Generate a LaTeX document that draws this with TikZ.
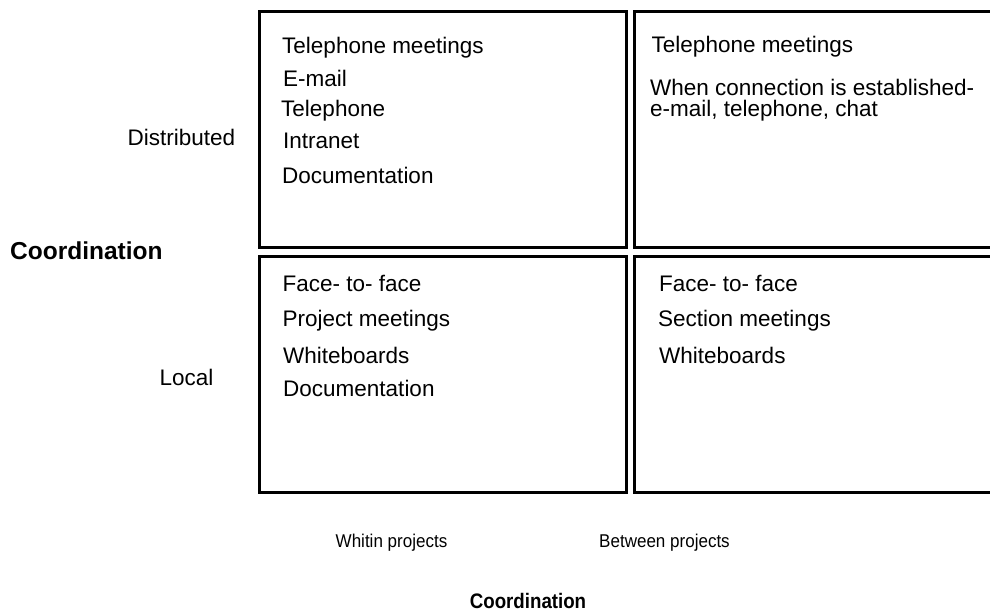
\documentclass[tikz,border=0pt]{standalone}
\usepackage{fontspec}
\setmainfont{Liberation Sans}
\begin{document}
\begin{tikzpicture}[x=1pt,y=-1pt,
  cell/.style={draw=black,line width=3pt,anchor=north west,inner sep=0pt,outer sep=0pt,
    minimum width=367pt,minimum height=236pt},
  item/.style={anchor=base west,inner sep=0pt,font=\fontsize{22.5}{27}\selectfont},
  side/.style={anchor=base,inner sep=0pt,font=\fontsize{22.5}{27}\selectfont},
  axis/.style={anchor=base,inner sep=0pt,font=\fontsize{18.5}{22}\selectfont,xscale=0.92,transform shape},
  title/.style={anchor=base,inner sep=0pt,font=\bfseries\fontsize{24.5}{29}\selectfont}]
\useasboundingbox (0,0) rectangle (990,611);
\clip (0,0) rectangle (990,611);

% quadrants
\node[cell] (tl) at (259.5,11.5) {};
\node[cell,minimum width=400pt] (tr) at (634.5,11.5) {};
\node[cell] (bl) at (259.5,256.5) {};
\node[cell,minimum width=400pt] (br) at (634.5,256.5) {};

% distributed, within projects
\node[item] (tl1) at (282,53) {Telephone meetings};
\node[item] (tl2) at (283,86) {E-mail};
\node[item] (tl3) at (281,116) {Telephone};
\node[item] (tl4) at (283,148) {Intranet};
\node[item] (tl5) at (282,183) {Documentation};

% distributed, between projects
\node[item] (tr1) at (651.5,52) {Telephone meetings};
\node[item] (tr2) at (650,95.5) {When connection is established-};
\node[item] (tr3) at (650,116.5) {e-mail, telephone, chat};

% local, within projects
\node[item] (bl1) at (282.5,291) {Face- to- face};
\node[item] (bl2) at (282.5,326.5) {Project meetings};
\node[item] (bl3) at (283,363) {Whiteboards};
\node[item] (bl4) at (283,396.5) {Documentation};

% local, between projects
\node[item] (br1) at (659,291.5) {Face- to- face};
\node[item] (br2) at (658,326.5) {Section meetings};
\node[item] (br3) at (659,363) {Whiteboards};

% vertical axis
\node[side] (dist) at (181.5,145) {Distributed};
\node[side] (local) at (186.5,385) {Local};
\node[title,anchor=base west] (ycoord) at (10,259) {Coordination};

% horizontal axis
\node[axis] (within) at (391.5,547.5) {Whitin projects};
\node[axis] (between) at (664.5,547.5) {Between projects};
\node[title,font=\bfseries\fontsize{21}{25}\selectfont,xscale=0.89,transform shape] (xcoord) at (528,608) {Coordination};
\end{tikzpicture}
\end{document}
